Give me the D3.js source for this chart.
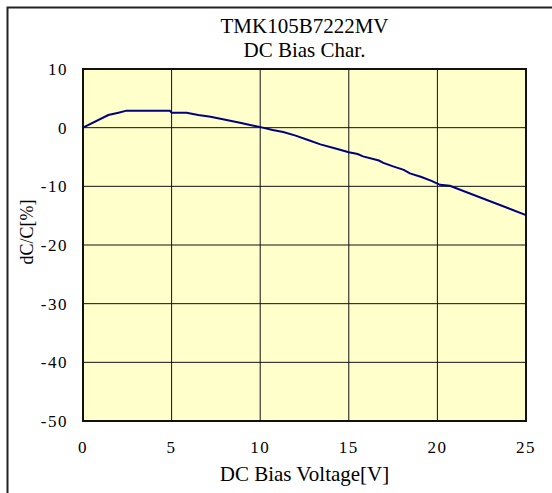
<!DOCTYPE html>
<html>
<head>
<meta charset="utf-8">
<script src="https://cdn.jsdelivr.net/npm/d3@7"></script>
<style>
body{margin:0;background:#fff;}
text{font-family:"Liberation Serif","Times New Roman",serif;fill:#000;}
</style>
</head>
<body>
<div id="chart"></div>
<script>
var voltage = [0,1.43,2.0,2.46,4.9,5.0,5.85,6.5,7.2,8.1,8.86,9.43,10.08,10.7,11.3,12.0,12.7,13.4,14.3,15.0,15.5,15.8,16.7,16.95,17.5,18.1,18.45,19.1,19.7,20.15,20.7,25];
var dcap = [0,2.15,2.55,2.9,2.9,2.55,2.55,2.15,1.85,1.3,0.84,0.45,0.05,-0.4,-0.75,-1.35,-2.1,-2.85,-3.6,-4.2,-4.5,-4.9,-5.6,-6.0,-6.6,-7.2,-7.8,-8.4,-9.1,-9.75,-9.9,-14.9];
var xTicks = [0,5,10,15,20,25];
var yTicks = [10,0,-10,-20,-30,-40,-50];
var titles = ["TMK105B7222MV","DC Bias Char."];

var w = 552, h = 493;
var pL = 83, pR = 526, pT = 69, pB = 421;

var svg = d3.select("#chart").append("svg")
  .attr("width", w).attr("height", h);

// outer frame (only left and top show in the picture)
svg.append("path")
  .attr("d", "M7.5," + h + "V7.5H" + w)
  .attr("fill","none").attr("stroke","#222").attr("stroke-width",2);

var x = d3.scaleLinear().domain([0,25]).range([pL,pR]);
var y = d3.scaleLinear().domain([-50,10]).range([pB,pT]);

svg.append("rect")
  .attr("x",pL).attr("y",pT)
  .attr("width",pR-pL).attr("height",pB-pT)
  .attr("fill","#ffffcc");

// grid
svg.append("g").selectAll("line").data(xTicks.slice(1,-1)).enter().append("line")
  .attr("x1",d=>x(d)).attr("x2",d=>x(d))
  .attr("y1",pT).attr("y2",pB)
  .attr("stroke","#111").attr("stroke-width",1);
svg.append("g").selectAll("line").data(yTicks.slice(1,-1)).enter().append("line")
  .attr("x1",pL).attr("x2",pR)
  .attr("y1",d=>y(d)).attr("y2",d=>y(d))
  .attr("stroke","#111").attr("stroke-width",1);

svg.append("rect")
  .attr("x",pL).attr("y",pT)
  .attr("width",pR-pL).attr("height",pB-pT)
  .attr("fill","none").attr("stroke","#111").attr("stroke-width",2);

// curve
var pts = voltage.map((v,i)=>[v,dcap[i]]);
svg.append("path")
  .datum(pts)
  .attr("d", d3.line().x(d=>x(d[0])).y(d=>y(d[1])))
  .attr("fill","none").attr("stroke","#000080").attr("stroke-width",2);

// axes labels
svg.append("g").selectAll("text").data(yTicks).enter().append("text")
  .attr("x",68).attr("y",d=>y(d))
  .attr("dy","0.35em")
  .attr("text-anchor","end")
  .style("font-size","17px").style("letter-spacing","1.5px")
  .text(d=>d);

svg.append("g").selectAll("text").data(xTicks).enter().append("text")
  .attr("x",d=>x(d)).attr("y",453)
  .attr("text-anchor","middle")
  .style("font-size","17px").style("letter-spacing","1.5px")
  .text(d=>d);

svg.selectAll(".title").data(titles).enter().append("text")
  .attr("class","title")
  .attr("x",(pL+pR)/2).attr("y",(d,i)=>33+i*24)
  .attr("text-anchor","middle")
  .style("font-size","21px")
  .text(d=>d);

svg.append("text")
  .attr("x",(pL+pR)/2).attr("y",481)
  .attr("text-anchor","middle")
  .style("font-size","21px")
  .text("DC Bias Voltage[V]");

svg.append("text")
  .attr("transform","translate(33,232) rotate(-90)")
  .attr("text-anchor","middle")
  .style("font-size","18px")
  .text("dC/C[%]");
</script>
</body>
</html>
